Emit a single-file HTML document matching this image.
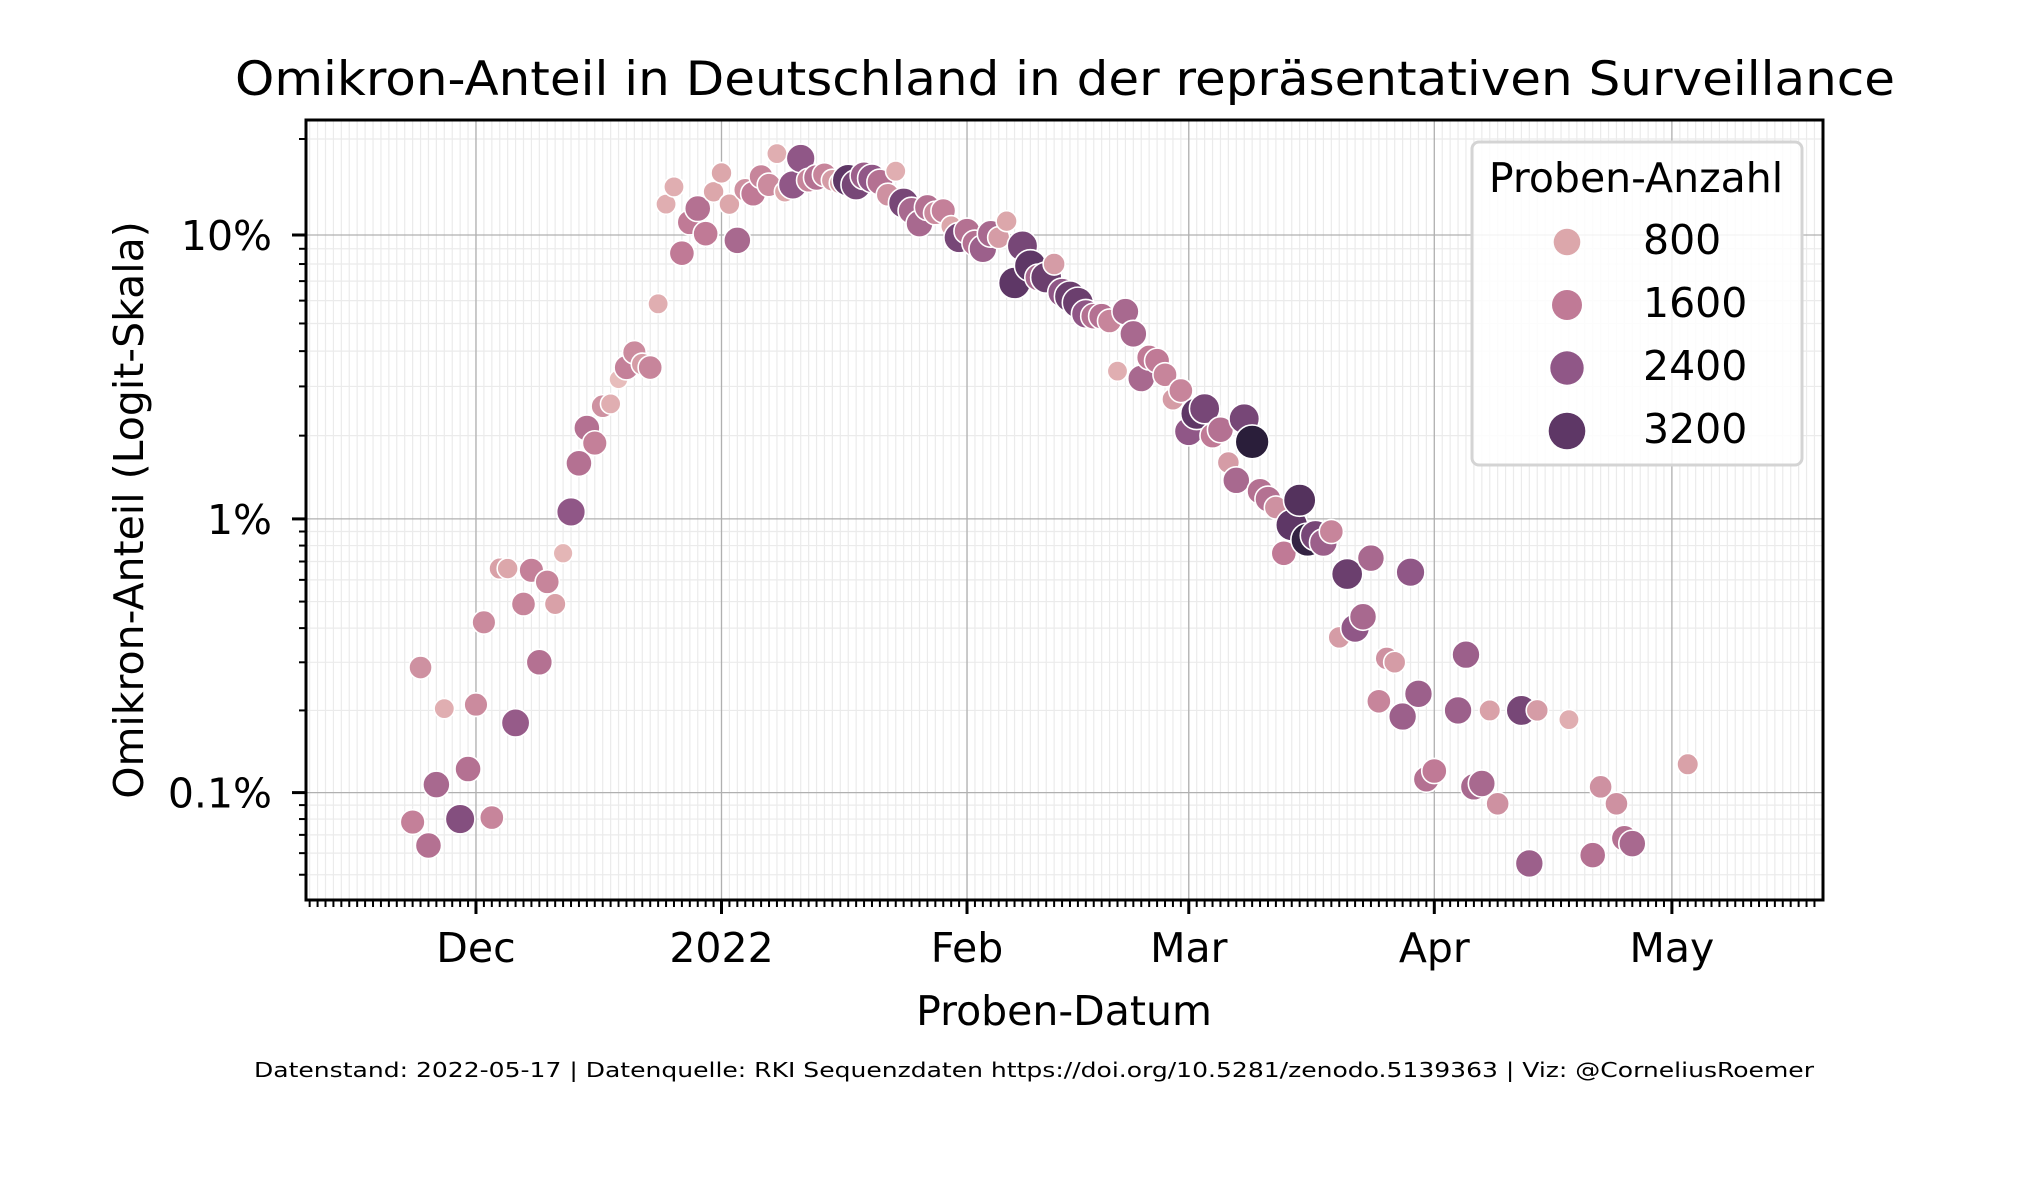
<!DOCTYPE html>
<html><head><meta charset="utf-8"><style>
html,body{margin:0;padding:0;background:#fff;}
svg{display:block;font-family:"DejaVu Sans","Liberation Sans",sans-serif;}
</style></head><body>
<svg id="chart" width="2025" height="1200" viewBox="0 0 2025 1200" xmlns="http://www.w3.org/2000/svg">
<rect x="0" y="0" width="2025" height="1200" fill="#fff"/>
<text x="1065" y="95" font-size="47" text-anchor="middle" textLength="1660" lengthAdjust="spacingAndGlyphs">Omikron-Anteil in Deutschland in der repräsentativen Surveillance</text>
<g id="grid"></g>
<g id="points"></g>
<g id="axes"></g>
<g id="legend"></g>
<text x="1064" y="1025" font-size="41" text-anchor="middle">Proben-Datum</text>
<text transform="translate(143,510) rotate(-90)" x="0" y="0" font-size="41" text-anchor="middle">Omikron-Anteil (Logit-Skala)</text>
<text x="1034" y="1077" font-size="20" text-anchor="middle" textLength="1560" lengthAdjust="spacingAndGlyphs">Datenstand: 2022-05-17 | Datenquelle: RKI Sequenzdaten https://doi.org/10.5281/zenodo.5139363 | Viz: @CorneliusRoemer</text>
</svg>
<script>
// days since 2022-01-01
const days = [-39,-38,-37,-36,-35,-33,-32,-31,-30,-29,-28,-27,-26,-25,-24,-23,-22,-21,-20,-19,-18,-17,-16,-15,-14,-13,-12,-11,-10,-9,-8,-7,-6,-5,-4,-3,-2,-1,0,1,2,3,4,5,6,7,8,9,10,11,12,13,14,15,16,17,18,19,20,21,22,23,24,25,26,27,28,29,30,31,32,33,34,35,36,37,38,39,40,41,42,43,44,45,46,47,48,49,50,51,52,53,54,55,56,57,58,59,60,61,62,63,64,65,66,67,68,69,70,71,72,73,74,75,76,77,78,79,80,81,82,83,84,85,86,87,88,89,90,93,94,95,96,97,98,101,102,103,107,110,111,113,114,115,122];
// omicron share in percent
const shares = [0.078,0.287,0.064,0.107,0.203,0.080,0.122,0.21,0.42,0.081,0.66,0.66,0.18,0.49,0.65,0.30,0.59,0.49,0.75,1.06,1.59,2.13,1.88,2.55,2.6,3.18,3.5,3.96,3.6,3.5,5.85,12.6,14.3,8.7,11.0,12.2,10.1,13.8,15.8,12.6,9.6,14.0,13.6,15.4,14.5,18.1,13.8,14.5,17.5,15.0,15.3,15.6,15.0,14.7,15.0,14.5,15.5,15.2,14.8,13.5,16.0,12.7,12.0,10.9,12.3,11.8,12.0,10.7,9.8,10.3,9.4,9.0,10.1,9.8,11.1,6.9,9.2,7.9,7.2,7.2,8.0,6.4,6.2,5.9,5.4,5.3,5.3,5.1,3.4,5.5,4.6,3.2,3.8,3.7,3.3,2.7,2.9,2.07,2.4,2.5,2.0,2.1,1.6,1.38,2.3,1.9,1.26,1.18,1.1,0.75,0.95,1.17,0.84,0.87,0.82,0.9,0.37,0.63,0.40,0.44,0.72,0.216,0.31,0.30,0.19,0.64,0.23,0.112,0.12,0.20,0.32,0.105,0.108,0.20,0.091,0.20,0.055,0.20,0.185,0.059,0.105,0.091,0.068,0.065,0.127];
// sample counts
const counts = [1500,1200,1800,2000,700,2600,1800,1300,1300,1400,900,800,2300,1400,1500,1800,1400,900,600,2400,1800,1800,1500,1200,700,500,1500,1300,1000,1400,700,700,700,1600,1600,1800,1600,800,800,800,2000,1200,1600,1400,1300,700,800,2400,2400,1400,1800,1400,1000,1000,3200,2800,2200,2400,1800,1200,700,2800,2000,2000,1800,1300,1500,800,2800,1800,1800,2200,2000,1000,800,3200,2800,3200,2000,3000,1000,2400,3000,3000,2400,1800,1800,1400,700,2000,2000,2000,1600,1600,1400,1000,1400,2400,3200,2800,1600,1800,1000,2000,2800,3700,1800,1800,1200,1600,3200,3300,3600,2800,2200,1400,1000,3000,2400,2000,2000,1400,1200,1000,2200,2400,2200,1800,1600,2200,2200,2000,2000,900,1200,2800,2200,1000,700,1800,1200,1200,1800,2000,900];
const yTickLabels = ["0.1%","1%","10%"];
const yTickValues = [0.001,0.01,0.1];
const xTickLabels = ["Dec","2022","Feb","Mar","Apr","May"];
const xTickDays = [-31,0,31,59,90,120];
const legendCounts = [800,1600,2400,3200];

const NS="http://www.w3.org/2000/svg";
const L=306,R=1823,T=120,B=900;
const X0=721.5, PXD=7.92;
const Y10=235, PXU=118.4, LG10=Math.log(0.1/0.9);
function xs(d){return X0+d*PXD;}
function logit(p){return Math.log(p/(1-p));}
function ys(p){return Y10+(LG10-logit(p))*PXU;}
function mk(tag,attrs,parent){const e=document.createElementNS(NS,tag);for(const k in attrs)e.setAttribute(k,attrs[k]);parent.appendChild(e);return e;}
const stops=[[400,[235,196,193]],[800,[220,167,171]],[1600,[192,122,150]],[2400,[144,87,135]],[3200,[94,55,102]],[3700,[42,30,58]]];
function color(c){
  if(c<=stops[0][0])return 'rgb('+stops[0][1].join(',')+')';
  for(let i=1;i<stops.length;i++){if(c<=stops[i][0]){const a=stops[i-1],b=stops[i];const t=(c-a[0])/(b[0]-a[0]);return 'rgb('+a[1].map((v,j)=>Math.round(v+(b[1][j]-v)*t)).join(',')+')';}}
  return 'rgb('+stops[stops.length-1][1].join(',')+')';
}
function rad(c){return Math.sqrt(61.3+0.0608*c);}

const grid=document.getElementById('grid');
for(let d=-52;d<=139;d++){const x=xs(d);if(x<L||x>R)continue;
  const ln=mk('line',{x1:x,x2:x,y1:T,y2:B,stroke:'#ebebeb','stroke-width':1.2},grid);
  
  }
const minorY=[];
[0.0001,0.001,0.01,0.1].forEach(dec=>{for(let k=2;k<=9;k++){const v=dec*k;if(v<0.5)minorY.push(v);}});
minorY.forEach(v=>{const y=ys(v);if(y<T||y>B)return;
  const ln=mk('line',{x1:L,x2:R,y1:y,y2:y,stroke:'#ebebeb','stroke-width':1.2},grid);
  
  });
xTickDays.forEach(d=>{const x=xs(d);
  const ln=mk('line',{x1:x,x2:x,y1:T,y2:B,stroke:'#b0b0b0','stroke-width':1.3},grid);
  
  });
yTickValues.forEach(v=>{const y=ys(v);
  const ln=mk('line',{x1:L,x2:R,y1:y,y2:y,stroke:'#b0b0b0','stroke-width':1.3},grid);
  
  });

const pts=document.getElementById('points');
for(let i=0;i<days.length;i++){
  const c=mk('circle',{cx:xs(days[i]),cy:ys(shares[i]/100),r:rad(counts[i]),fill:color(counts[i]),stroke:'#fff','stroke-width':1.6},pts);
  
  
}

const ax=document.getElementById('axes');
for(let d=-52;d<=139;d++){const x=xs(d);if(x<L+2||x>R-2)continue;
  const ln=mk('line',{x1:x,x2:x,y1:B,y2:B+7,stroke:'#000','stroke-width':2},ax);
  
  }
minorY.forEach(v=>{const y=ys(v);if(y<T||y>B)return;
  const ln=mk('line',{x1:L,x2:L-7,y1:y,y2:y,stroke:'#000','stroke-width':2},ax);
  
  });
xTickDays.forEach((d,i)=>{const x=xs(d);
  const ln=mk('line',{x1:x,x2:x,y1:B,y2:B+14,stroke:'#000','stroke-width':3},ax);
  
  
  const t=mk('text',{x:x,y:962,'font-size':41,'text-anchor':'middle'},ax);t.textContent=xTickLabels[i];
  
  });
yTickValues.forEach((v,i)=>{const y=ys(v);
  const ln=mk('line',{x1:L,x2:L-14,y1:y,y2:y,stroke:'#000','stroke-width':3},ax);
  
  
  const t=mk('text',{x:272,y:y+15,'font-size':41,'text-anchor':'end'},ax);t.textContent=yTickLabels[i];
  
  });
const frame=mk('rect',{x:L,y:T,width:R-L,height:B-T,fill:'none',stroke:'#000','stroke-width':3},ax);



const lg=document.getElementById('legend');
const box=mk('rect',{x:1472,y:142,width:330,height:323,rx:7,fill:'rgba(255,255,255,0.85)',stroke:'#d4d4d4','stroke-width':3},lg);


const lt=mk('text',{x:1636,y:192,'font-size':41,'text-anchor':'middle'},lg);lt.textContent='Proben-Anzahl';


const lrad=[13.3,15,16.7,18.3];
legendCounts.forEach((c,i)=>{const cy=242+i*63;
  const m=mk('circle',{cx:1567,cy:cy,r:lrad[i],fill:color(c)},lg);
  
  
  const t=mk('text',{x:1643,y:cy+12,'font-size':41},lg);t.textContent=String(c);
  
  });
</script>
</body></html>
